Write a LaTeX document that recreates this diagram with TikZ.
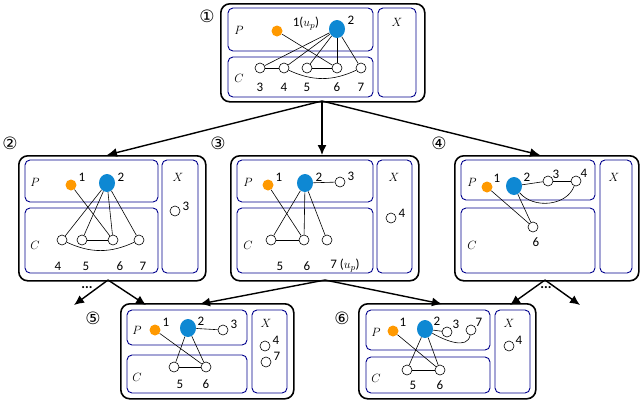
\documentclass[tikz,border=0pt]{standalone}
\usepackage{fontspec}
\setmainfont{Carlito}
\newfontfamily\circfont{DejaVu Sans}
\usetikzlibrary{calc}
\usetikzlibrary{arrows, arrows.meta, shapes, positioning}
\begin{document}
\begin{tikzpicture}[x=1pt, y=-1pt, font=\fontsize{13}{15}\selectfont, semithick]
   \tikzstyle{obox}=[rectangle, draw, line width=1.6pt, rounded corners=9pt]
   \tikzstyle{ibox}=[rectangle, draw=blue!55!black, line width=0.9pt, rounded corners=5pt]
   \tikzstyle{wnode}=[circle, draw, fill=white, minimum size=10pt, inner sep=0pt]
   \tikzstyle{onode}=[circle, fill=orange!80!yellow, minimum size=11pt, inner sep=0pt]
   \tikzstyle{bnode}=[ellipse, fill=cyan!70!blue, minimum width=16pt, minimum height=18pt, inner sep=0pt]
   \tikzstyle{arr}=[-{Latex[length=10pt,width=9pt]}, line width=1.4pt]
   \tikzstyle{num}=[font=\circfont\fontsize{17}{17}\selectfont]
   \useasboundingbox (0,0) rectangle (640,400);

   % Box 1
   \draw (220,3) node[obox, minimum width=204pt, minimum height=98pt, anchor=north west] (b1) {};
   \draw[ibox] (228,8) rectangle (373,51);
   \draw[ibox] (228,57) rectangle (373,97);
   \draw[ibox] (378,8) rectangle (416,97);
   \draw (207,16) node[num] {①};
   \draw (239,30) node {$P$};
   \draw (239,78) node {$C$};
   \draw (397,22) node {$X$};
   \draw (277,31) node[onode] (a1) {};
   \draw (306,24) node {1($u_p$)};
   \draw (337,29) node[bnode] (a2) {};
   \draw (351,20) node {2};
   \draw (260,68) node[wnode] (a3) {};
   \draw (284,68) node[wnode] (a4) {};
   \draw (307,68) node[wnode] (a5) {};
   \draw (337,68) node[wnode] (a6) {};
   \draw (361,68) node[wnode] (a7) {};
   \foreach \i/\x in {3/260,4/284,5/307,6/337,7/361} \draw (\x,87) node {\i};
   \draw (a1) -- (a6);
   \foreach \i in {3,4,5,6,7} \draw (a2) -- (a\i);
   \draw (a3) -- (a4);
   \draw (a5) -- (a6);
   \draw (a4) to[out=-25, in=-155] (a7);

   % Box 2
   \draw (18,155) node[obox, minimum width=187pt, minimum height=125pt, anchor=north west] (b2) {};
   \draw[ibox] (25,160) rectangle (158,202);
   \draw[ibox] (25,208) rectangle (158,273);
   \draw[ibox] (162,160) rectangle (198,273);
   \draw (10,143) node[num] {②};
   \draw (35,182) node {$P$};
   \draw (35,245) node {$C$};
   \draw (178,177) node {$X$};
   \draw (71,185) node[onode] (c1) {};
   \draw (82,177) node {1};
   \draw (107,183) node[bnode] (c2) {};
   \draw (121,177) node {2};
   \draw (175,211) node[wnode] (c3) {};
   \draw (186,206) node {3};
   \draw (62,240) node[wnode] (c4) {};
   \draw (82,240) node[wnode] (c5) {};
   \draw (113,240) node[wnode] (c6) {};
   \draw (139,240) node[wnode] (c7) {};
   \foreach \i/\x in {4/58,5/86,6/120,7/143} \draw (\x,266) node {\i};
   \draw (c1) -- (c6);
   \foreach \i in {4,5,6,7} \draw (c2) -- (c\i);
   \draw (c5) -- (c6);
   \draw (c4) to[out=-25, in=-155] (c7);

   % Box 3
   \draw (230,155) node[obox, minimum width=188pt, minimum height=125pt, anchor=north west] (b3) {};
   \draw[ibox] (237,160) rectangle (373,202);
   \draw[ibox] (237,208) rectangle (373,273);
   \draw[ibox] (377,160) rectangle (412,273);
   \draw (218,143) node[num] {③};
   \draw (248,182) node {$P$};
   \draw (248,245) node {$C$};
   \draw (394,177) node {$X$};
   \draw (268,185) node[onode] (d1) {};
   \draw (279,177) node {1};
   \draw (305,183) node[bnode] (d2) {};
   \draw (319,177) node {2};
   \draw (340,182) node[wnode] (d3) {};
   \draw (351,176) node {3};
   \draw (391,218) node[wnode] (d4) {};
   \draw (402,213) node {4};
   \draw (271,240) node[wnode] (d5) {};
   \draw (304,240) node[wnode] (d6) {};
   \draw (327,240) node[wnode] (d7) {};
   \draw (280,266) node {5};
   \draw (307,266) node {6};
   \draw (345,266) node {7 ($u_p$)};
   \draw (d2) -- (d3);
   \draw (d1) -- (d6);
   \foreach \i in {5,6,7} \draw (d2) -- (d\i);
   \draw (d5) -- (d6);

   % Box 4
   \draw (454,155) node[obox, minimum width=184pt, minimum height=125pt, anchor=north west] (b4) {};
   \draw[ibox] (461,160) rectangle (595,200);
   \draw[ibox] (461,208) rectangle (595,273);
   \draw[ibox] (600,160) rectangle (632,273);
   \draw (439,143) node[num] {④};
   \draw (472,182) node {$P$};
   \draw (472,245) node {$C$};
   \draw (614,177) node {$X$};
   \draw (487,187) node[onode] (e1) {};
   \draw (497,178) node {1};
   \draw (514,186) node[bnode] (e2) {};
   \draw (527,177) node {2};
   \draw (548,181) node[wnode] (e3) {};
   \draw (556,174) node {3};
   \draw (576,181) node[wnode] (e4) {};
   \draw (584,173) node {4};
   \draw (533,227) node[wnode] (e6) {};
   \draw (536,242) node {6};
   \draw (e2) -- (e3);
   \draw (e3) -- (e4);
   \draw (e2) to[out=-50, in=-110] (e4);
   \draw (e1) -- (e6);
   \draw (e2) -- (e6);

   % Box 5
   \draw (120,303) node[obox, minimum width=173pt, minimum height=95pt, anchor=north west] (b5) {};
   \draw[ibox] (127,310) rectangle (247,345);
   \draw[ibox] (127,355) rectangle (247,393);
   \draw[ibox] (252,310) rectangle (287,393);
   \draw (93,318) node[num] {⑤};
   \draw (137,330) node {$P$};
   \draw (137,377) node {$C$};
   \draw (266,323) node {$X$};
   \draw (155,330) node[onode] (f1) {};
   \draw (166,322) node {1};
   \draw (188,328) node[bnode] (f2) {};
   \draw (201,321) node {2};
   \draw (223,330) node[wnode] (f3) {};
   \draw (234,324) node {3};
   \draw (265,346) node[wnode] (f4) {};
   \draw (276,340) node {4};
   \draw (266,362) node[wnode] (f7) {};
   \draw (277,356) node {7};
   \draw (174,367) node[wnode] (f5) {};
   \draw (206,367) node[wnode] (f6) {};
   \draw (180,384) node {5};
   \draw (206,384) node {6};
   \draw (f2) -- (f3);
   \draw (f1) -- (f6);
   \draw (f2) -- (f5);
   \draw (f2) -- (f6);
   \draw (f5) -- (f6);

   % Box 6
   \draw (358,303) node[obox, minimum width=177pt, minimum height=95pt, anchor=north west] (b6) {};
   \draw[ibox] (366,310) rectangle (490,350);
   \draw[ibox] (366,357) rectangle (490,393);
   \draw[ibox] (495,310) rectangle (530,393);
   \draw (342,318) node[num] {⑥};
   \draw (376,332) node {$P$};
   \draw (376,378) node {$C$};
   \draw (509,323) node {$X$};
   \draw (393,331) node[onode] (g1) {};
   \draw (403,322) node {1};
   \draw (425,329) node[bnode] (g2) {};
   \draw (437,321) node {2};
   \draw (447,332) node[wnode] (g3) {};
   \draw (456,324) node {3};
   \draw (471,330) node[wnode] (g7) {};
   \draw (479,322) node {7};
   \draw (509,346) node[wnode] (g4) {};
   \draw (519,340) node {4};
   \draw (407,370) node[wnode] (g5) {};
   \draw (440,370) node[wnode] (g6) {};
   \draw (413,385) node {5};
   \draw (440,385) node {6};
   \draw (g2) -- (g3);
   \draw (g2) to[out=-30, in=-100] (g7);
   \draw (g1) -- (g6);
   \draw (g2) -- (g5);
   \draw (g2) -- (g6);
   \draw (g5) -- (g6);

   % Tree arrows
   \coordinate (t1) at (322,101);
   \coordinate (t2) at (107,155);
   \coordinate (t3) at (322,155);
   \coordinate (t4) at (540,155);
   \draw[arr] (t1) -- (t2);
   \draw[arr] (t1) -- (t3);
   \draw[arr] (t1) -- (t4);
   \coordinate (u3) at (325,280);
   \coordinate (u5) at (200,304);
   \coordinate (u6) at (442,304);
   \draw[arr] (u3) -- (u5);
   \draw[arr] (u3) -- (u6);
   \coordinate (u2) at (108,280);
   \coordinate (v2a) at (74,305);
   \coordinate (v2b) at (146,305);
   \draw[arr] (u2) -- (v2a);
   \draw[arr] (u2) -- (v2b);
   \draw (87,288) node[font=\bfseries\fontsize{14}{14}\selectfont] {...};
   \coordinate (u4) at (545,280);
   \coordinate (v4a) at (510,305);
   \coordinate (v4b) at (580,305);
   \draw[arr] (u4) -- (v4a);
   \draw[arr] (u4) -- (v4b);
   \draw (546,288) node[font=\bfseries\fontsize{14}{14}\selectfont] {...};
\end{tikzpicture}
\end{document}
